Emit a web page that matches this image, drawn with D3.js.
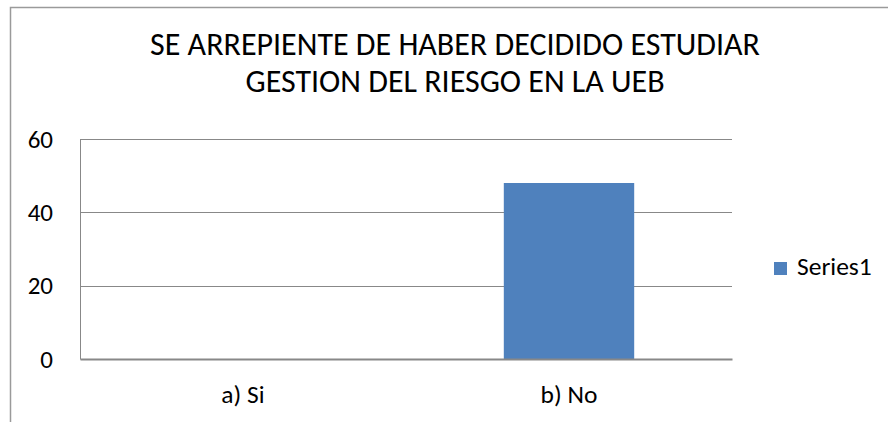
<!DOCTYPE html>
<html>
<head>
<meta charset="utf-8">
<script src="https://cdn.jsdelivr.net/npm/d3@7"></script>
<style>
  body { margin: 0; background: #fff; }
  text { font-family: Carlito, "Open Sans", "Liberation Sans", sans-serif; fill: #000; }
</style>
</head>
<body>
<div id="chart"></div>
<script>
// chart values
var categories = ["a) Si", "b) No"];
var values = [0, 48];
var seriesName = "Series1";
var yTicks = [0, 20, 40, 60];
var titleLines = ["SE ARREPIENTE DE HABER DECIDIDO ESTUDIAR", "GESTION DEL RIESGO EN LA UEB"];

var width = 888, height = 422;
var margin = {left: 80, top: 139, right: 156, bottom: 63};
var drawWidth = width - margin.left - margin.right;
var drawHeight = height - margin.top - margin.bottom;

var svg = d3.select("#chart").append("svg")
  .attr("width", width)
  .attr("height", height);

// outer chart border (cut off at right and bottom)
svg.append("path")
  .attr("d", "M10.5," + height + " V7.5 H" + width)
  .attr("fill", "none")
  .attr("stroke", "#9a9a9a")
  .attr("stroke-width", 1.5);

var canvas = svg.append("g")
  .attr("transform", "translate(" + margin.left + "," + margin.top + ")");

var x = d3.scaleBand().domain(categories).range([0, drawWidth]);
var y = d3.scaleLinear().domain([0, 60]).range([drawHeight, 0]);

// gridlines
canvas.selectAll(".grid")
  .data(yTicks.filter(function(d){ return d > 0; }))
  .enter().append("line")
  .attr("class", "grid")
  .attr("x1", 0).attr("x2", drawWidth)
  .attr("y1", function(d){ return Math.round(y(d)) + 0.5; })
  .attr("y2", function(d){ return Math.round(y(d)) + 0.5; })
  .attr("stroke", "#888")
  .attr("stroke-width", 1);

// bars
var barW = x.bandwidth() * 0.4;
canvas.selectAll(".bar")
  .data(values)
  .enter().append("rect")
  .attr("class", "bar")
  .attr("x", function(d, i){ return x(categories[i]) + (x.bandwidth() - barW) / 2; })
  .attr("width", barW)
  .attr("y", function(d){ return y(d); })
  .attr("height", function(d){ return drawHeight - y(d); })
  .attr("fill", "#4f81bd");

// y axis
var yAxis = canvas.append("g")
  .call(d3.axisLeft(y).tickValues(yTicks).tickSize(0).tickPadding(27));
yAxis.select(".domain").attr("stroke", "#888").attr("stroke-width", 1);
yAxis.selectAll("text")
  .style("font-size", "25px")
  .attr("dy", "0.33em");

// x axis
var xAxis = canvas.append("g")
  .attr("transform", "translate(0," + drawHeight + ")")
  .call(d3.axisBottom(x).tickSize(0));
xAxis.select(".domain").attr("stroke", "#888").attr("stroke-width", 2);
xAxis.selectAll("text")
  .style("font-size", "25.5px")
  .attr("y", 44)
  .attr("dy", 0);

// title
svg.append("g").selectAll("text")
  .data(titleLines)
  .enter().append("text")
  .attr("x", 455)
  .attr("y", function(d, i){ return 55 + i * 37; })
  .attr("text-anchor", "middle")
  .style("font-size", "32px")
  .text(function(d){ return d; });

// legend
var legend = svg.append("g").attr("transform", "translate(774,262)");
legend.append("rect")
  .attr("width", 13).attr("height", 13)
  .attr("fill", "#4f81bd");
legend.append("text")
  .attr("x", 23).attr("y", 13)
  .style("font-size", "25.5px")
  .text(seriesName);
</script>
</body>
</html>
